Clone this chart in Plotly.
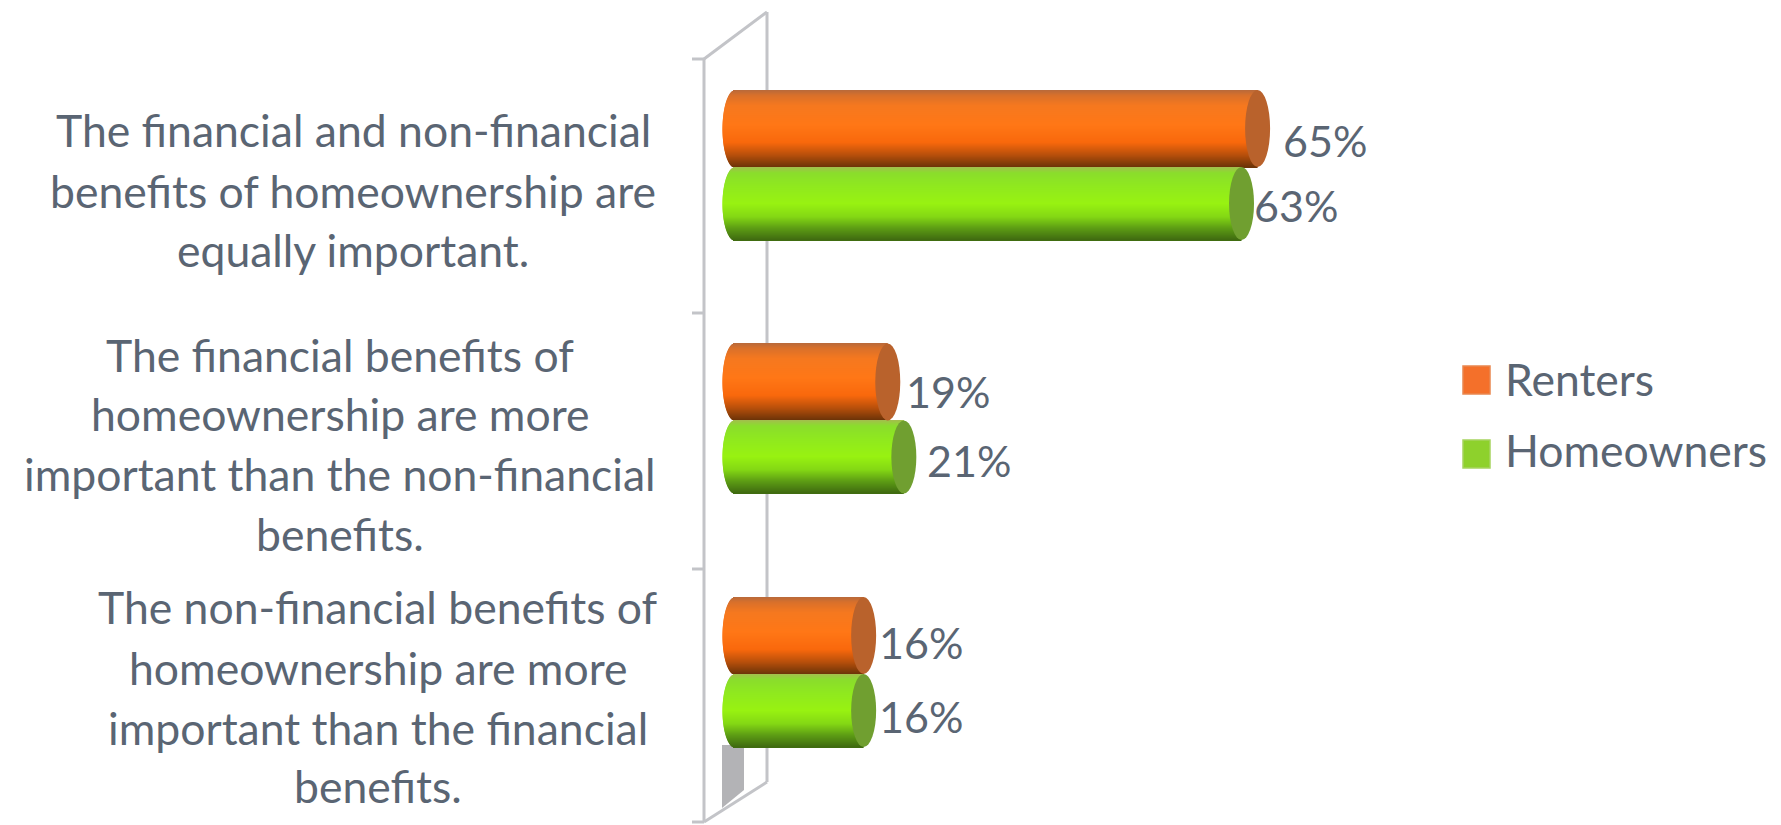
import math
import plotly.graph_objects as go

W, H = 1781, 825

# ---- data ----
label_lines = [
    ["The financial and non-financial", "benefits of homeownership are", "equally important."],
    ["The financial benefits of", "homeownership are more", "important than the non-financial", "benefits."],
    ["The non-financial benefits of", "homeownership are more", "important than the financial", "benefits."],
]
categories = [" ".join(l) for l in label_lines]
renters = [65, 19, 16]
homeowners = [63, 21, 16]
series_names = ["Renters", "Homeowners"]

# ---- style / layout ----
FONT = "Lato, Carlito, Calibri, sans-serif"
TXT = "#5a6573"
WALL = "#c3c4c8"
FS = 44.5
FS_VAL = 43
X0, XS = 735, 8.04           # px of value 0, px per percentage point
Y0, YS = 167, 253.5          # px of first category, px per category
CAP = 12.5                   # half width of a cylinder end, px

orange_stops = [(0, "#b8693a"), (.07, "#d9702a"), (.2, "#f5781f"), (.45, "#ff7716"), (.68, "#f9680c"),
                (.84, "#b9500b"), (1, "#6c3308")]
green_stops = [(0, "#a4bd4e"), (.08, "#8add2c"), (.25, "#8fe81f"), (.5, "#98f211"), (.68, "#84d814"),
               (.84, "#5c9c14"), (1, "#3f6a10")]


def hex2(c):
    return [int(c[i:i + 2], 16) for i in (1, 3, 5)]


def grad(stops, t):
    for (a, ca), (b, cb) in zip(stops, stops[1:]):
        if t <= b:
            f = (t - a) / (b - a)
            r = [round(p + (q - p) * f) for p, q in zip(hex2(ca), hex2(cb))]
            return f"rgb({r[0]},{r[1]},{r[2]})"
    return stops[-1][1]


def px(x):
    return x / W


def py(y):
    return 1 - y / H


fig = go.Figure()
series = [
    (series_names[0], renters, orange_stops, -77 / YS, 77 / YS, "#b9622c", 77),
    (series_names[1], homeowners, green_stops, 0, 73 / YS, "#709f30", 73),
]
shapes = []

# wall of the 3-D plot, behind the bars
wall = [((704, 59), (704, 822)), ((767, 12), (767, 782)), ((704, 59), (767, 12)), ((704, 822), (767, 782)),
        ((692, 59), (704, 59)), ((692, 313), (704, 313)), ((692, 569), (704, 569)), ((692, 822), (704, 822))]
for (a, b), (c, d) in wall:
    shapes.append(dict(type="line", xref="paper", yref="paper", x0=px(a), y0=py(b), x1=px(c), y1=py(d),
                       line=dict(color=WALL, width=3), layer="below"))
shapes.append(dict(type="path", xref="paper", yref="paper", layer="below", line_width=0, fillcolor="#b3b3b6",
                   path=f"M {px(722)} {py(745)} L {px(744)} {py(745)} L {px(744)} {py(790)} "
                        f"L {px(722)} {py(808)} Z"))

for name, vals, stops, off, h, capc, bands in series:
    for b in range(bands):
        t = (b + .5) / bands
        # the rounded left end of the cylinder
        inset = CAP / XS * math.sqrt(max(0, 1 - (2 * t - 1) ** 2))
        fig.add_trace(go.Bar(
            y=categories, x=[v + inset for v in vals], base=[-inset] * len(vals), orientation="h",
            width=h / bands * 1.5, offset=off + h * b / bands,
            marker=dict(color=grad(stops, t), line_width=0),
            name=name, showlegend=False, hoverinfo="skip"))
    for i, v in enumerate(vals):
        shapes.append(dict(type="circle", xref="x", yref="y", xsizemode="pixel", xanchor=v,
                           x0=-CAP, x1=CAP, y0=i + off, y1=i + off + h,
                           fillcolor=capc, line=dict(color=capc, width=0), layer="above"))

annotations = []
# category labels, one annotation per line
label_cx = [353, 340, 378]
label_y = [[129, 190, 250], [354, 413, 473, 533], [606, 667, 727, 785]]
for lines, cx, ys in zip(label_lines, label_cx, label_y):
    for line, y in zip(lines, ys):
        annotations.append(dict(text=line, xref="paper", yref="paper", x=px(cx), y=py(y), showarrow=False,
                                xanchor="center", yanchor="middle", font=dict(family=FONT, size=FS, color=TXT)))

# value labels
x_shift = [[23, 16, 13], [10, 21, 13]]
y_shift = [[-27, -29, -32], [38, 40, 42]]
for s, (name, vals, *_rest) in enumerate(series):
    for i, v in enumerate(vals):
        annotations.append(dict(text=f"{v}%", xref="x", yref="y", x=v, y=categories[i], showarrow=False,
                                xanchor="left", yanchor="middle", xshift=x_shift[s][i], yshift=-y_shift[s][i],
                                font=dict(family=FONT, size=FS_VAL, color=TXT)))

# legend
legend_pos = [(366, 394, 378), (440, 468, 450)]
legend_cols = ["#f4702a", "#8ed12c"]
legend_edge = ["#e9874f", "#a6d45f"]
for nm, (t, b, c), col, edge in zip(series_names, legend_pos, legend_cols, legend_edge):
    shapes.append(dict(type="rect", xref="paper", yref="paper", x0=px(1463), x1=px(1490), y0=py(b), y1=py(t),
                       fillcolor=col, line=dict(color=edge, width=1.5)))
    annotations.append(dict(text=nm, xref="paper", yref="paper", x=px(1503), y=py(c), showarrow=False,
                            xanchor="left", yanchor="middle", font=dict(family=FONT, size=FS, color=TXT)))

fig.update_layout(
    width=W, height=H, margin=dict(l=0, r=0, t=0, b=0), autosize=False,
    paper_bgcolor="white", plot_bgcolor="rgba(0,0,0,0)", barmode="overlay", showlegend=False,
    xaxis=dict(visible=False, range=[-X0 / XS, (W - X0) / XS], domain=[0, 1]),
    yaxis=dict(visible=False, type="category", categoryorder="array", categoryarray=categories,
               range=[(H - Y0) / YS, -Y0 / YS], domain=[0, 1]),
    shapes=shapes, annotations=annotations,
)
fig.write_html("out.html", config=dict(displayModeBar=False),
               post_script="document.body.style.margin='0';document.body.style.overflow='hidden';")
